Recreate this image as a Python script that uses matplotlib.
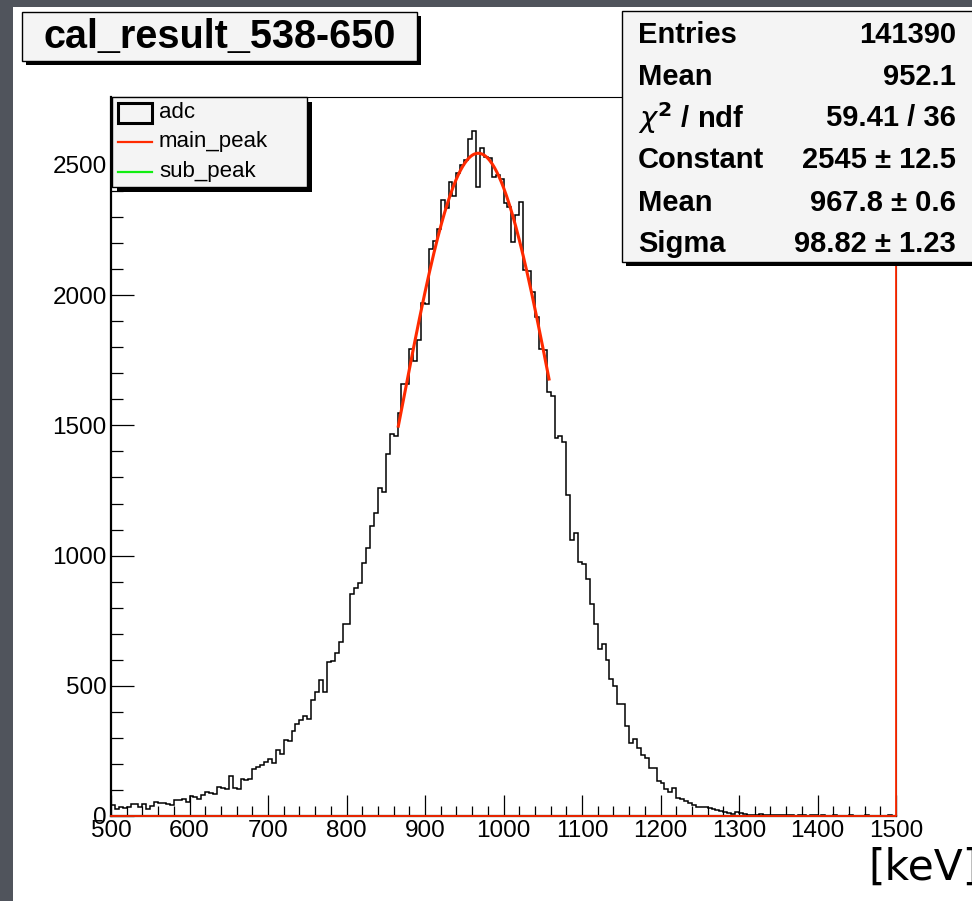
import numpy as np
import matplotlib
matplotlib.use("Agg")
import matplotlib.pyplot as plt
from matplotlib.patches import Rectangle
from matplotlib.lines import Line2D

plt.rcParams['font.family'] = ['Liberation Sans', 'DejaVu Sans']

# histogram "adc": 200 bins of 5 keV between 500 and 1500
bin_lo = 500
bin_hi = 1500
adc_counts = [
    44, 26, 33, 31, 36, 46, 46, 33, 46, 26,
    40, 54, 49, 49, 46, 44, 62, 62, 67, 53,
    77, 74, 67, 81, 94, 90, 83, 113, 108, 103,
    155, 109, 104, 141, 138, 142, 181, 190, 197, 209,
    219, 205, 254, 237, 291, 288, 327, 354, 368, 385,
    371, 445, 478, 524, 478, 593, 596, 627, 670, 739,
    739, 851, 877, 894, 971, 1028, 1114, 1164, 1260, 1246,
    1392, 1466, 1459, 1546, 1660, 1660, 1793, 1748, 1826, 1970,
    1968, 2177, 2208, 2254, 2364, 2335, 2436, 2381, 2470, 2498,
    2520, 2601, 2629, 2416, 2565, 2530, 2525, 2452, 2460, 2445,
    2354, 2339, 2205, 2308, 2358, 2098, 2094, 2013, 1917, 1792,
    1790, 1629, 1613, 1452, 1459, 1438, 1232, 1060, 1086, 976,
    966, 911, 813, 739, 643, 660, 598, 527, 499, 430,
    430, 347, 279, 294, 262, 234, 221, 186, 186, 136,
    128, 102, 91, 109, 68, 65, 59, 51, 42, 36,
    33, 36, 29, 26, 23, 20, 15, 13, 8, 14,
    10, 8, 4, 5, 4, 6, 3, 2, 4, 3,
    5, 2, 3, 2, 1, 3, 2, 1, 2, 3,
    1, 2, 1, 1, 2, 0, 1, 1, 2, 1,
    0, 1, 3, 1, 0, 1, 1, 0, 2, 1,
]

# gaussian fit "main_peak" (parameters from the stats box)
fit_const = 2545
fit_mean = 967.8
fit_sigma = 98.82
fit_lo, fit_hi = 866, 1058

stats_labels = ["Entries", "Mean", r"$\chi^{\mathbf{2}}$ / ndf", "Constant", "Mean", "Sigma"]
stats_values = ["141390", "952.1", "59.41 / 36", "2545 ± 12.5", "967.8 ± 0.6", "98.82 ± 1.23"]
legend_labels = ["adc", "main_peak", "sub_peak"]
title = "cal_result_538-650"

RED = '#ff2a00'
GREEN = '#11ee11'
PANEL = '#f4f4f4'

W, H = 972, 901
fig = plt.figure(figsize=(W / 100, H / 100), dpi=100)
fig.patch.set_facecolor('#50545c')


def fx(px):
    return px / W


def fy(py):
    return 1 - py / H


def panel(x0, y0, x1, y1, shadow):
    fig.add_artist(Rectangle((fx(x0 + shadow), fy(y1 + shadow)), (x1 - x0) / W, (y1 - y0) / H,
                             facecolor='black', edgecolor='none', transform=fig.transFigure, zorder=5))
    fig.add_artist(Rectangle((fx(x0), fy(y1)), (x1 - x0) / W, (y1 - y0) / H,
                             facecolor=PANEL, edgecolor='black', lw=1.0, transform=fig.transFigure, zorder=6))


# white canvas
fig.add_artist(Rectangle((fx(13), 0), 1 - fx(13), fy(7), facecolor='white', edgecolor='none',
                         transform=fig.transFigure, zorder=-10))

ax = fig.add_axes([fx(111), fy(816), (896 - 111) / W, (816 - 97) / H])
ax.set_zorder(1)

edges = np.linspace(bin_lo, bin_hi, len(adc_counts) + 1)
ax.stairs(adc_counts, edges, color='black', lw=1.1, baseline=0)

xf = np.linspace(fit_lo, fit_hi, 200)
ax.plot(xf, fit_const * np.exp(-0.5 * ((xf - fit_mean) / fit_sigma) ** 2), color=RED, lw=2.2)

ymax = 2761
ax.plot([bin_lo, bin_hi, bin_hi], [0, 0, ymax], color=RED, lw=1.3, clip_on=False, zorder=4)

ax.set_xlim(bin_lo, bin_hi)
ax.set_ylim(0, ymax)
ax.xaxis.set_major_locator(plt.MultipleLocator(100))
ax.xaxis.set_minor_locator(plt.MultipleLocator(20))
ax.yaxis.set_major_locator(plt.MultipleLocator(500))
ax.yaxis.set_minor_locator(plt.MultipleLocator(100))
ax.tick_params(axis='x', which='major', direction='in', length=15, width=0.9, labelsize=17.5, pad=3)
ax.tick_params(axis='x', which='minor', direction='in', length=7.5, width=0.9)
ax.tick_params(axis='y', which='major', direction='in', length=16.5, width=0.9, labelsize=17.5, pad=3)
ax.tick_params(axis='y', which='minor', direction='in', length=8.5, width=0.9)
ax.spines['left'].set_linewidth(1.6)
ax.spines['bottom'].set_linewidth(1.6)
ax.spines['top'].set_linewidth(0.8)
ax.spines['right'].set_linewidth(0.8)

# title box
panel(22, 12, 417, 61, 4)
fig.text(fx(220), fy(37), title, fontsize=28.5, fontweight='bold', ha='center', va='center', zorder=7)

# stats box
panel(622, 11, 990, 262, 4)
rows_y = [35, 77, 118, 160, 203, 244]
for lab, val, yy in zip(stats_labels, stats_values, rows_y):
    fig.text(fx(638), fy(yy), lab, fontsize=21, fontweight='bold', ha='left', va='center', zorder=7)
    fig.text(fx(956), fy(yy), val, fontsize=21, fontweight='bold', ha='right', va='center', zorder=7)

# legend
panel(112, 97, 307, 187, 5)
fig.add_artist(Rectangle((fx(118), fy(123)), 34 / W, 20 / H, facecolor=PANEL, edgecolor='black',
                         lw=2.2, transform=fig.transFigure, zorder=7))
fig.add_artist(Line2D([fx(118), fx(152)], [fy(142), fy(142)], color=RED, lw=1.6,
                      transform=fig.transFigure, zorder=7))
fig.add_artist(Line2D([fx(118), fx(152)], [fy(172), fy(172)], color=GREEN, lw=1.6,
                      transform=fig.transFigure, zorder=7))
for lab, yy in zip(legend_labels, [112, 142, 172]):
    fig.text(fx(159), fy(yy), lab, fontsize=16, ha='left', va='center', zorder=7)

fig.text(fx(868), fy(868), "[keV]", fontsize=30.5, family='DejaVu Sans', ha='left', va='center')

fig.savefig('out.png', dpi=100, facecolor=fig.get_facecolor())
